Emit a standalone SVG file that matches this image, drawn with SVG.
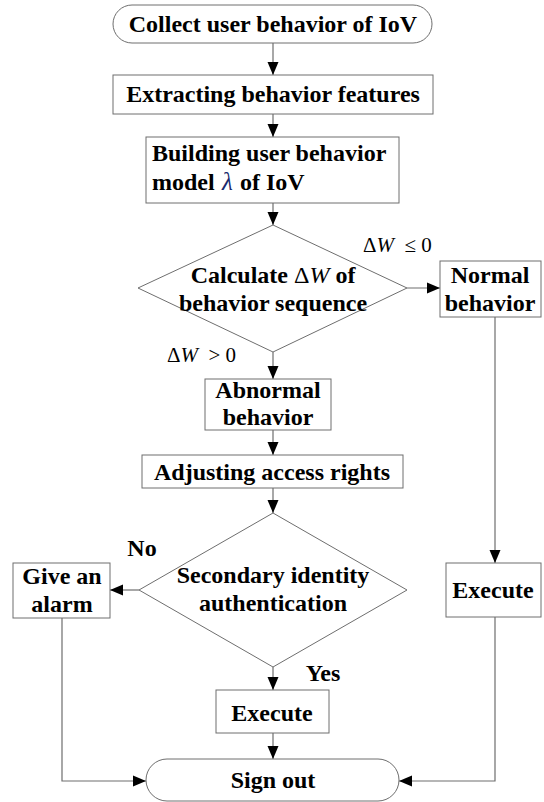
<svg xmlns="http://www.w3.org/2000/svg" width="544" height="802" viewBox="0 0 544 802">
<style>
.box{fill:#fff;stroke:#6e6e6e;stroke-width:1}
.ln{fill:none;stroke:#6e6e6e;stroke-width:1.2}
.t{font-family:"Liberation Serif","Times New Roman",serif;font-weight:bold;font-size:24px;fill:#000;text-anchor:middle}
.s{text-anchor:start}
.m{font-family:"Liberation Serif","Times New Roman",serif;font-size:21px;fill:#000;white-space:pre}
</style>
<defs>
<marker id="ah" markerUnits="userSpaceOnUse" markerWidth="13" markerHeight="12" refX="13" refY="6" orient="auto">
<path d="M0,0.5 L13,6 L0,11.5 z" fill="#000"/>
</marker>
</defs>
<g id="connectors">
<line class="ln" x1="273" y1="43" x2="273" y2="75" marker-end="url(#ah)"/>
<line class="ln" x1="273" y1="114" x2="273" y2="137" marker-end="url(#ah)"/>
<line class="ln" x1="273" y1="203" x2="273" y2="225" marker-end="url(#ah)"/>
<line class="ln" x1="407" y1="288" x2="440" y2="288" marker-end="url(#ah)"/>
<line class="ln" x1="273" y1="352" x2="273" y2="379" marker-end="url(#ah)"/>
<line class="ln" x1="273" y1="430" x2="273" y2="455" marker-end="url(#ah)"/>
<line class="ln" x1="273" y1="488" x2="273" y2="513" marker-end="url(#ah)"/>
<line class="ln" x1="495" y1="317" x2="495" y2="563" marker-end="url(#ah)"/>
<line class="ln" x1="139" y1="590" x2="110" y2="590" marker-end="url(#ah)"/>
<line class="ln" x1="273" y1="667" x2="273" y2="690" marker-end="url(#ah)"/>
<line class="ln" x1="273" y1="733" x2="273" y2="759" marker-end="url(#ah)"/>
<polyline class="ln" points="62,618 62,781 146,781" marker-end="url(#ah)"/>
<polyline class="ln" points="495,617 495,781 399,781" marker-end="url(#ah)"/>
</g>
<g id="start">
<rect class="box" x="113" y="5" width="319" height="38" rx="19" ry="19"/>
<text class="t" x="273" y="32">Collect user behavior of IoV</text>
</g>
<g id="extract">
<rect class="box" x="113" y="75" width="320" height="39"/>
<text class="t" x="273" y="102">Extracting behavior features</text>
</g>
<g id="build">
<rect class="box" x="146" y="137" width="253" height="66"/>
<text class="t s" x="152" y="161">Building user behavior</text>
<text class="t s" x="152" y="190">model</text>
<text x="222" y="190" style="font-family:'Liberation Serif',serif;font-style:italic;font-size:25px;fill:#1a2a6e">λ</text>
<text class="t s" x="240" y="190">of IoV</text>
</g>
<g id="calc">
<polygon class="box" points="273,225 407,288 273,352 138,288"/>
<text class="t" x="273" y="283">Calculate <tspan style="font-weight:normal">Δ</tspan><tspan style="font-weight:normal;font-style:italic">W</tspan> of</text>
<text class="t" x="273" y="311">behavior sequence</text>
</g>
<g id="normal">
<rect class="box" x="440" y="261" width="101" height="56"/>
<text class="t" x="490" y="283">Normal</text>
<text class="t" x="490" y="311">behavior</text>
</g>
<g id="abnormal">
<rect class="box" x="205" y="379" width="126" height="51"/>
<text class="t" x="268" y="398">Abnormal</text>
<text class="t" x="268" y="425">behavior</text>
</g>
<g id="adjust">
<rect class="box" x="142" y="455" width="261" height="33"/>
<text class="t" x="272" y="480">Adjusting access rights</text>
</g>
<g id="secondary">
<polygon class="box" points="273,513 407,590 273,667 139,590"/>
<text class="t" x="273" y="583">Secondary identity</text>
<text class="t" x="273" y="611">authentication</text>
</g>
<g id="alarm">
<rect class="box" x="13" y="563" width="97" height="55"/>
<text class="t" x="62" y="584">Give an</text>
<text class="t" x="62" y="612">alarm</text>
</g>
<g id="execute-right">
<rect class="box" x="446" y="563" width="95" height="54"/>
<text class="t" x="493" y="598">Execute</text>
</g>
<g id="execute">
<rect class="box" x="216" y="690" width="113" height="43"/>
<text class="t" x="272" y="721">Execute</text>
</g>
<g id="end">
<rect class="box" x="146" y="759" width="253" height="42" rx="21" ry="21"/>
<text class="t" x="273" y="788">Sign out</text>
</g>
<g id="labels">
<text class="m" x="363" y="252">Δ<tspan font-style="italic">W</tspan>  ≤ 0</text>
<text class="m" x="167" y="362">Δ<tspan font-style="italic">W</tspan>  &gt; 0</text>
<text class="t" x="142" y="556">No</text>
<text class="t" x="323" y="681">Yes</text>
</g>
</svg>
